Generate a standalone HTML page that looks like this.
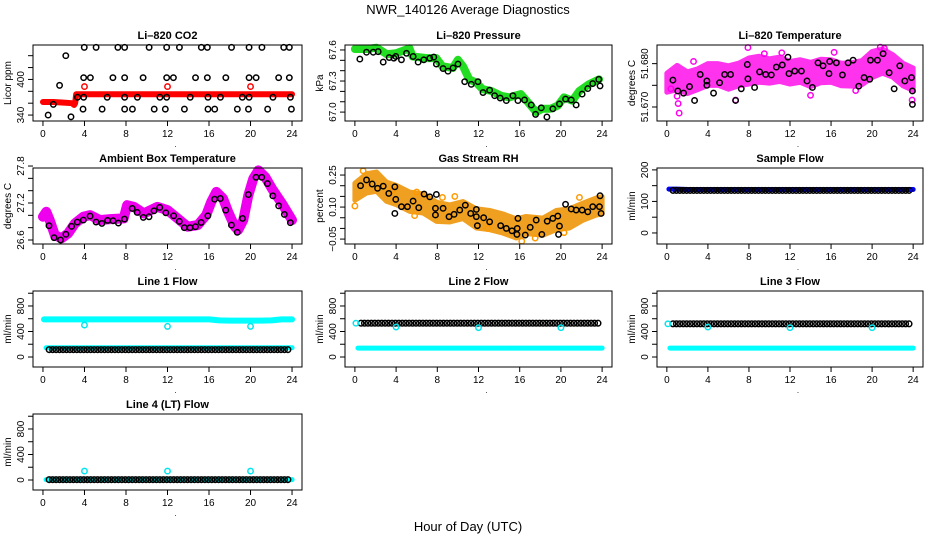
<!DOCTYPE html>
<html><head><meta charset="utf-8"><style>
body{margin:0;background:#fff}
svg{display:block;font-family:"Liberation Sans",sans-serif}
</style></head><body>
<svg id="chart" width="936" height="540" viewBox="0 0 936 540" xmlns="http://www.w3.org/2000/svg">
<text x="468" y="14" text-anchor="middle" font-size="13">NWR_140126  Average Diagnostics</text>
<text x="468" y="531" text-anchor="middle" font-size="13">Hour of Day (UTC)</text>
</svg>
<script>
// ---- data ----
const xTicks=[0,4,8,12,16,20,24];
// CO2
const co2RedHours=[0,1,2,2.8,3.0,3.1,3.2,6,10,14,18,22,24];
const co2RedVals=[362,362,361,360,357,360,375,375,375,375,375,375,375];
const co2RedPtHours=[4,12,20];const co2RedPtVals=[388,388,388];
const co2BlkHours=[0.5,1.0,1.6,2.2,2.7,3.98,5.12,7.22,7.87,10.23,11.92,13.15,15.26,15.84,18.17,19.86,21.1,23.2,23.74,3.92,4.57,6.74,7.87,9.65,11.92,12.57,14.7,15.84,17.62,19.86,20.54,22.71,23.74,3.33,3.92,6.19,7.87,9.1,11.27,11.92,14.19,15.9,17.1,19.21,19.86,22.16,23.84,3.86,5.7,7.87,8.62,10.72,11.79,13.63,15.9,16.55,18.73,19.8,21.65,23.94];
const co2BlkVals=[340,358,390,440,337,454,454,454,454,454,454,454,454,454,454,454,454,454,454,403,403,403,403,403,403,403,403,403,403,403,403,403,403,370,370,370,370,370,370,370,370,370,370,370,370,370,370,350,350,350,350,350,350,350,350,350,350,350,350,350];
// Pressure
const presGreenHours=[0,1.1,2.1,3.1,4.0,5.3,5.6,7,7.9,8.5,9.5,10,10.5,11.1,11.8,12.4,13.2,14.2,15,16.1,16.8,17.6,18.2,19,19.7,20.3,21.1,21.8,22.7,23.7];
const presGreenVals=[67.609,67.609,67.622,67.559,67.568,67.616,67.537,67.521,67.521,67.442,67.426,67.505,67.442,67.316,67.284,67.221,67.205,67.158,67.142,67.174,67.095,67.0,67.032,67.032,67.063,67.142,67.11,67.205,67.268,67.316];
const presBlkHours=[0.48,1.13,1.78,2.26,2.75,3.33,3.78,3.97,4.52,5.01,5.65,6.14,6.69,7.27,7.66,7.91,8.56,9.04,9.53,10.01,10.66,11.3,11.95,12.44,13.08,13.57,14.11,14.7,15.34,15.83,16.47,17.12,17.54,18.09,18.64,19.22,19.86,20.45,21.0,21.48,22.06,22.61,23.09,23.68,23.8];
const presBlkVals=[67.512,67.578,67.578,67.584,67.483,67.527,67.521,67.537,67.505,67.568,67.537,67.483,67.505,67.521,67.531,67.464,67.420,67.395,67.426,67.464,67.294,67.268,67.294,67.189,67.212,67.158,67.136,67.111,67.158,67.111,67.117,67.069,66.978,67.041,66.953,67.032,67.079,67.126,67.117,67.069,67.174,67.227,67.275,67.316,67.253];
// Li-820 temperature
const tempBandHours=[0,1,2,3,4,5,6,7,8,9,10,11,12,13,14,15,16,17,18,19,20,21,22,23,24];
const tempBandCenter=[51.6756,51.6768,51.6756,51.6764,51.6775,51.6775,51.6768,51.6775,51.6783,51.6787,51.6783,51.6787,51.6779,51.6783,51.6775,51.6783,51.6783,51.6775,51.6775,51.6779,51.6798,51.6806,51.6795,51.6775,51.6764];
const tempBandSpread=[0.0022,0.0028,0.0025,0.0024,0.0025,0.0025,0.0027,0.0026,0.0030,0.0030,0.0028,0.0028,0.0026,0.0026,0.0028,0.0027,0.0026,0.0026,0.0027,0.0028,0.0030,0.0028,0.0026,0.0026,0.0026];
const tempMagHours=[1.1,1.2,1.0,7.9,20.8,21.2,6.7,14.0,23.9,2.6,11.2,9.5,0.4,16.3,18.4];
const tempMagVals=[51.6708,51.6686,51.6725,51.6837,51.6838,51.6835,51.6716,51.6727,51.6716,51.6805,51.6825,51.6823,51.6742,51.6826,51.6738];
const tempBlkHours=[0.59,1.07,1.63,2.21,2.70,3.25,3.90,3.90,4.55,5.14,5.63,6.21,6.70,7.25,7.84,7.90,8.55,9.04,9.63,10.18,10.67,11.25,11.80,11.90,12.46,13.11,13.66,14.18,14.73,15.22,15.80,15.87,16.52,17.11,17.66,18.15,18.70,19.22,19.84,19.77,20.52,21.07,21.66,22.15,22.70,23.19,23.84,23.93,23.93];
const tempBlkVals=[51.6762,51.6737,51.6732,51.6747,51.6715,51.6775,51.6760,51.6750,51.6732,51.6756,51.6775,51.6775,51.6715,51.6742,51.6798,51.6765,51.6745,51.6781,51.6775,51.6774,51.6792,51.6797,51.6815,51.6777,51.6783,51.6783,51.6760,51.6745,51.6802,51.6795,51.6777,51.6805,51.6802,51.6774,51.6802,51.6808,51.6748,51.6768,51.6808,51.6764,51.6808,51.6823,51.6779,51.6742,51.6795,51.6760,51.6768,51.6737,51.6706];
// Ambient box temperature
const ambHours=[0,0.32,0.65,1.14,1.78,2.43,3.08,3.89,4.54,5.51,6.49,7.78,8.11,8.76,9.73,11.03,12.0,12.97,13.95,14.92,15.73,16.22,16.71,17.35,17.84,18.49,18.81,19.3,19.79,20.27,20.76,21.41,22.06,23.03,24];
const ambVals=[26.977,27.058,26.923,26.681,26.627,26.708,26.869,26.977,27.004,26.923,26.939,26.950,27.165,27.138,27.031,27.138,27.084,26.950,26.815,26.842,27.004,27.219,27.380,27.273,27.058,26.815,26.762,26.923,27.327,27.596,27.730,27.623,27.435,27.192,26.923];
const ambBlkHours=[0.58,1.07,1.69,2.21,2.76,3.31,3.89,4.54,5.12,5.68,6.23,6.75,7.27,7.85,8.60,9.08,9.67,10.22,10.70,11.25,11.84,12.59,13.14,13.62,14.17,14.69,15.24,15.89,16.54,17.09,17.61,18.16,18.72,19.23,19.79,20.53,21.08,21.63,22.15,22.71,23.26,23.84];
const ambBlkVals=[26.832,26.638,26.600,26.692,26.821,26.891,26.923,26.988,26.891,26.869,26.918,26.912,26.875,26.939,27.111,27.047,26.966,26.977,27.074,27.128,27.041,26.993,26.902,26.799,26.799,26.815,26.885,26.993,27.262,27.273,27.084,26.842,26.724,26.950,27.337,27.617,27.617,27.515,27.316,27.154,27.015,26.880];
// Gas stream RH
const rhBandHours=[0,1.13,2.1,3.07,4.04,5.33,6.62,7.92,9.21,10.5,11.79,13.08,14.37,15.67,16.63,18.25,19.54,20.83,22.12,23.41,24];
const rhBandCenter=[0.172,0.211,0.219,0.172,0.156,0.125,0.117,0.078,0.070,0.086,0.047,0.039,0.023,0.0,0.016,0.008,0.039,0.047,0.078,0.102,0.109];
const rhBandSpread=[0.04,0.045,0.045,0.045,0.045,0.045,0.045,0.045,0.04,0.04,0.045,0.045,0.045,0.045,0.04,0.04,0.045,0.045,0.04,0.04,0.04];
const rhOrgHours=[0.8,0,5.8,9.7,3.7,8.5,16.2,20.3,21.8,17.5,6.0,12.9];
const rhOrgVals=[0.27,0.105,0.06,0.15,0.18,0.145,-0.06,-0.02,0.145,-0.045,0.17,0.0];
const rhBlkHours=[0.55,1.13,1.68,2.20,2.75,3.88,3.29,3.97,3.88,4.52,5.10,5.65,6.20,6.72,7.27,7.91,7.82,7.82,8.56,9.14,9.63,10.18,10.72,11.24,11.79,11.79,11.89,12.5,13.08,14.15,14.7,15.25,15.76,15.83,15.73,16.54,17.02,17.6,18.15,18.67,19.22,19.7,19.86,19.77,20.45,21.0,21.48,22.06,22.61,23.09,23.74,23.8,23.9];
const rhBlkVals=[0.200,0.227,0.208,0.188,0.198,0.195,0.164,0.136,0.070,0.102,0.102,0.128,0.097,0.161,0.148,0.159,0.094,0.063,0.094,0.055,0.066,0.086,0.109,0.070,0.089,0.055,0.013,0.050,0.031,0.013,0.0,-0.011,0.0,0.047,-0.028,-0.031,0.005,0.039,-0.028,0.034,0.047,0.058,0.011,-0.028,0.113,0.091,0.086,0.086,0.078,0.102,0.102,0.153,0.070];
// Flows (hourly values 0..24)
const sampleBlue=[139,139,138,138,138,138,138,138,138,138,138,138,138,138,138,138,138,138,138,138,138,138,138,138,138];
const sampleBlk=[135,135,135,135,135,135,135,135,135,135,135,135,135,135,135,135,135,135,135,135,135,135,135,135,135];
const l1High=[590,590,590,590,590,590,590,590,590,590,590,590,590,590,590,590,590,575,570,570,570,570,575,590,590];
const l1Low=[145,145,145,145,145,145,145,145,145,145,145,145,145,145,145,145,145,145,145,145,145,145,145,145,145];
const l1Blk=[115,115,115,115,115,115,115,115,115,115,115,115,115,115,115,115,115,115,115,115,115,115,115,115,115];
const l1CyanPtVals=[500,480,480];
const l2Low=[140,140,140,140,140,140,140,140,140,140,140,140,140,140,140,140,140,140,140,140,140,140,140,140,140];
const l2Blk=[530,530,530,530,530,530,530,530,530,530,530,530,530,530,530,530,530,530,530,530,530,530,530,530,530];
const l2CyanPtVals=[470,460,460];
const l3Low=[140,140,140,140,140,140,140,140,140,140,140,140,140,140,140,140,140,140,140,140,140,140,140,140,140];
const l3Blk=[520,520,520,520,520,520,520,520,520,520,520,520,520,520,520,520,520,520,520,520,520,520,520,520,520];
const l3CyanPtVals=[470,460,460];
const l4Low=[5,5,5,5,5,5,5,5,5,5,5,5,5,5,5,5,5,5,5,5,5,5,5,5,5];
const l4Blk=[5,5,5,5,5,5,5,5,5,5,5,5,5,5,5,5,5,5,5,5,5,5,5,5,5];
const l4CyanPtVals=[140,140,140];
const cyanPtHours=[4,12,20];

// ---- drawing ----
const NS='http://www.w3.org/2000/svg';
const svg=document.getElementById('chart');
function mk(tag,attrs,parent){const e=document.createElementNS(NS,tag);for(const k in attrs)e.setAttribute(k,attrs[k]);(parent||svg).appendChild(e);return e;}
const cols=[[33,302],[345,612],[657,923]];
const rowTops=[45,168,291,414];const H=76;
function panel(id,col,row,title,ylab,ymin,ymax,ticks,labels){
  const x0=cols[col][0],x1=cols[col][1],y0=rowTops[row],y1=y0+H;
  const g=mk('g',{});
  
  
  const sx=h=>x0+(h+0.96)/25.92*(x1-x0);
  const sy=v=>y1-(v-ymin)/(ymax-ymin)*H;
  const data=mk('g',{},g);
  
  
  const box=mk('rect',{x:x0,y:y0,width:x1-x0,height:H,fill:'none',stroke:'#000','stroke-width':1},g);
  
  
  const t=mk('text',{x:(x0+x1)/2,y:y0-6,'text-anchor':'middle','font-size':11,'font-weight':'bold'},g);t.textContent=title;
  
  
  const xa=mk('g',{},g);
  
  
  xTicks.forEach(h=>{mk('line',{x1:sx(h),x2:sx(h),y1:y1,y2:y1+5,stroke:'#000'},xa);
    const l=mk('text',{x:sx(h),y:y1+16,'text-anchor':'middle','font-size':10},xa);l.textContent=h;
    
    });
  const dot=mk('text',{x:(x0+x1)/2+8,y:y1+26,'text-anchor':'middle','font-size':8},xa);dot.textContent='.';
  
  
  const ya=mk('g',{},g);
  
  
  ticks.forEach(v=>mk('line',{x1:x0-5,x2:x0,y1:sy(v),y2:sy(v),stroke:'#000'},ya));
  labels.forEach(v=>{const x=x0-9,y=sy(v[0]);const l=mk('text',{x:x,y:y,transform:`rotate(-90 ${x} ${y})`,'text-anchor':'middle','font-size':10},ya);l.textContent=v[1];
    
    });
  const yl=mk('text',{x:x0-22,y:(y0+y1)/2,transform:`rotate(-90 ${x0-22} ${(y0+y1)/2})`,'text-anchor':'middle','font-size':10},ya);yl.textContent=ylab;
  
  
  return {sx,sy,g:data,x0,x1,y0,y1};
}
function pts(p,hs,vs,color,name,r,sw){
  hs.forEach((h,i)=>{const c=mk('circle',{cx:p.sx(h),cy:p.sy(vs[i]),r:r||2.7,fill:'none',stroke:color,'stroke-width':sw||1.5},p.g);
    
    });
}
function line(p,hs,vs,color,w,name){
  const l=mk('polyline',{points:hs.map((h,i)=>p.sx(h)+','+p.sy(vs[i])).join(' '),fill:'none',stroke:color,'stroke-width':w,'stroke-linejoin':'round','stroke-linecap':'round'},p.g);
  
  
}
function band(p,hs,c,s,color,name){
  const up=hs.map((h,i)=>p.sx(h)+','+p.sy(c[i]+s[i]));
  const lo=hs.map((h,i)=>p.sx(h)+','+p.sy(c[i]-s[i])).reverse();
  const b=mk('polygon',{points:up.concat(lo).join(' '),fill:color,stroke:color,'stroke-width':5,'stroke-linejoin':'round'},p.g);
  
  
}
const hourIdx=[...Array(25).keys()];
function dense(p,vals,color,name,start,end){
  const hs=[],vs=[];for(let h=start;h<=end+1e-9;h+=1/3){hs.push(h);vs.push(vals[Math.round(h)]);}
  pts(p,hs,vs,color,name,2.8,1.5);
}
// panel 1
let p=panel('co2',0,0,'Li\u2013820 CO2','Licor ppm',330,458,[340,360,380,400,420,440],[[340,'340'],[400,'400']]);
line(p,co2RedHours,co2RedVals,'#ff0000',6,'co2-red-trace');
pts(p,co2RedPtHours,co2RedPtVals,'#ff0000','co2-red-point');
pts(p,co2BlkHours,co2BlkVals,'#000','co2-point');
// panel 2
p=panel('pressure',1,0,'Li\u2013820 Pressure','kPa',66.914,67.648,[67.0,67.1,67.2,67.3,67.4,67.5,67.6],[[67.0,'67.0'],[67.3,'67.3'],[67.6,'67.6']]);
line(p,presGreenHours,presGreenVals,'#22dd22',8,'pressure-green-trace');
pts(p,presBlkHours,presBlkVals,'#000','pressure-point');
// panel 3
p=panel('licor-temp',2,0,'Li\u2013820 Temperature','degrees C',51.66677,51.6843,[51.670,51.675,51.680],[[51.670,'51.670'],[51.680,'51.680']]);
band(p,tempBandHours,tempBandCenter,tempBandSpread,'#ff33ee','licor-temp-magenta-cloud');
pts(p,tempMagHours,tempMagVals,'#ff00ee','licor-temp-magenta-point');
pts(p,tempBlkHours,tempBlkVals,'#000','licor-temp-point');
// panel 4
p=panel('ambient',0,1,'Ambient Box Temperature','degrees C',26.535,27.768,[26.6,26.8,27.0,27.2,27.4,27.6,27.8],[[26.6,'26.6'],[27.2,'27.2'],[27.8,'27.8']]);
line(p,ambHours,ambVals,'#ee00ee',10,'ambient-magenta-trace');
pts(p,ambBlkHours,ambBlkVals,'#000','ambient-point');
// panel 5
p=panel('gas-rh',1,1,'Gas Stream RH','percent',-0.073,0.283,[-0.05,0,0.05,0.10,0.15,0.20,0.25],[[-0.05,'\u22120.05'],[0.10,'0.10'],[0.25,'0.25']]);
band(p,rhBandHours,rhBandCenter,rhBandSpread,'#f0a020','gas-rh-orange-cloud');
pts(p,rhOrgHours,rhOrgVals,'#ff9900','gas-rh-orange-point');
pts(p,rhBlkHours,rhBlkVals,'#000','gas-rh-point');
// panel 6
p=panel('sample-flow',2,1,'Sample Flow','ml/min',-35,206,[0,50,100,150,200],[[0,'0'],[100,'100'],[200,'200']]);
line(p,hourIdx.map(h=>Math.max(h,0.2)),sampleBlue,'#0000ff',5,'sample-flow-blue-trace');
dense(p,sampleBlk,'#000','sample-flow-point',0.6,23.9);
const flowTicks=[0,200,400,600,800,1000],flowLabels=[[0,'0'],[400,'400'],[800,'800']];
// line flows
function flowPanel(id,col,row,title,high,low,blk,cy){
  const q=panel(id,col,row,title,'ml/min',-157,1035,flowTicks,flowLabels);
  if(high)line(q,hourIdx.map(h=>Math.max(h,0.1)),high,'#00ffff',6,id+'-cyan-high-trace');
  line(q,hourIdx.map(h=>Math.max(h,0.3)),low,'#00ffff',5,id+'-cyan-low-trace');
  dense(q,blk,'#000',id+'-point',0.6,23.9);
  pts(q,cyanPtHours,cy,'#00e5ee',id+'-cyan-point');
  return q;
}
flowPanel('line1-flow',0,2,'Line 1 Flow',l1High,l1Low,l1Blk,l1CyanPtVals);
let q2=flowPanel('line2-flow',1,2,'Line 2 Flow',null,l2Low,l2Blk,l2CyanPtVals);
pts(q2,[0.1],[l2Blk[0]],'#00e5ee','line2-flow-cyan-start');
let q3=flowPanel('line3-flow',2,2,'Line 3 Flow',null,l3Low,l3Blk,l3CyanPtVals);
pts(q3,[0.1],[l3Blk[0]],'#00e5ee','line3-flow-cyan-start');
flowPanel('line4-flow',0,3,'Line 4 (LT) Flow',null,l4Low,l4Blk,l4CyanPtVals);
</script>
</body></html>
